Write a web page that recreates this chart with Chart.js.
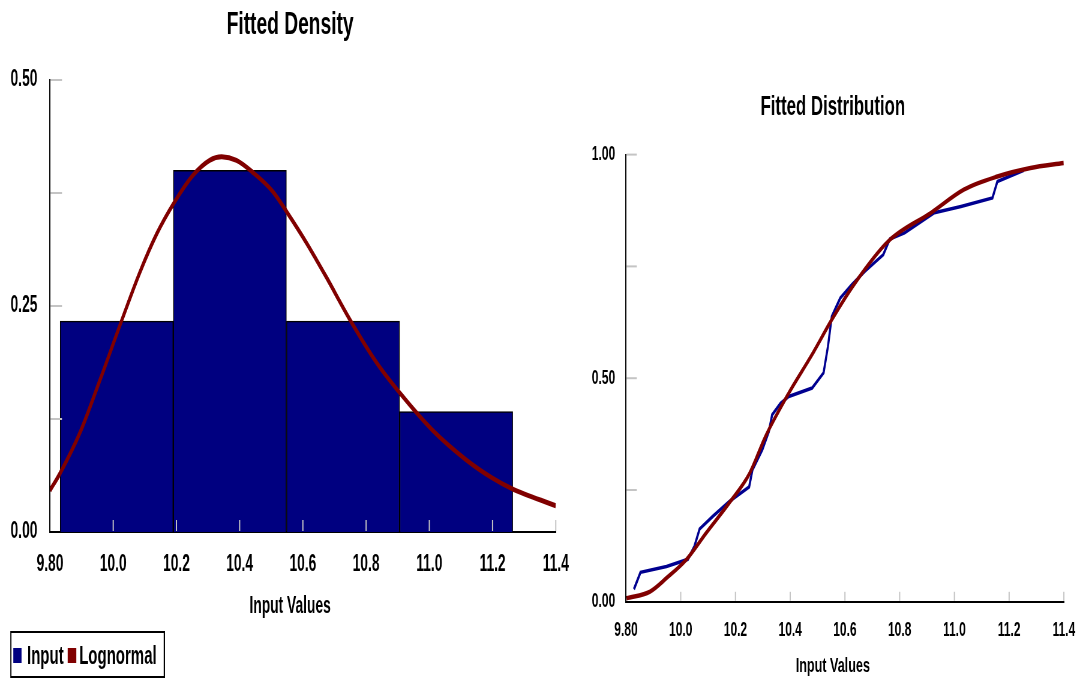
<!DOCTYPE html>
<html>
<head>
<meta charset="utf-8">
<script src="https://cdn.jsdelivr.net/npm/chart.js@4.4.1/dist/chart.umd.min.js"></script>
<style>
  html, body { margin: 0; padding: 0; background: #fff; overflow: hidden; }
  /* the source picture is squeezed sideways, so the whole stage is drawn wide and scaled down */
  #stage { position: absolute; left: 0; top: 0; width: 1809px; height: 683px; transform: scaleX(0.6); transform-origin: 0 0; }
  #density { position: absolute; left: 0; top: 0; }
  #distribution { position: absolute; left: 967px; top: 60px; }
  #legend { position: absolute; left: 17px; top: 631px; width: 258px; height: 47px; box-sizing: border-box; border: 2px solid #000;
            font-family: 'Liberation Sans', Arial, sans-serif; font-weight: bold; font-size: 25px; color: #000; }
  #legend span { position: absolute; }
  .sq { width: 14px; height: 15px; top: 15px; }
  .lab { top: 8px; line-height: 28px; }
</style>
</head>
<body>
<div id="stage">
  <canvas id="density" width="967" height="625"></canvas>
  <canvas id="distribution" width="842" height="623"></canvas>
  <div id="legend">
    <span class="sq" style="left:3px;background:#000080"></span><span class="lab" style="left:26px">Input</span>
    <span class="sq" style="left:94px;background:#800000"></span><span class="lab" style="left:113px">Lognormal</span>
  </div>
</div>
<script>
// histogram of the input (share of values per bin)
const binCenters = [10.011, 10.369, 10.727, 11.085];
const binShares = [0.2333, 0.4000, 0.2333, 0.1333];

// fitted lognormal density, scaled to the bin width
const densX = [9.800, 9.832, 9.895, 9.958, 10.030, 10.084, 10.138, 10.194, 10.251, 10.305, 10.343, 10.390, 10.441, 10.504, 10.551, 10.611, 10.674, 10.747, 10.832, 10.911, 11.009, 11.116, 11.198, 11.261, 11.400];
const densY = [0.046, 0.065, 0.110, 0.168, 0.237, 0.287, 0.330, 0.365, 0.394, 0.411, 0.415, 0.411, 0.398, 0.377, 0.353, 0.320, 0.282, 0.236, 0.188, 0.152, 0.113, 0.080, 0.060, 0.048, 0.029];

// empirical distribution of the input
const inputCdfX = [9.829, 9.853, 9.948, 10.026, 10.050, 10.069, 10.117, 10.177, 10.250, 10.262, 10.298, 10.322, 10.334, 10.365, 10.395, 10.480, 10.522, 10.538, 10.552, 10.583, 10.625, 10.673, 10.740, 10.764, 10.818, 10.927, 11.024, 11.139, 11.157, 11.254];
const inputCdfY = [0.028, 0.066, 0.079, 0.095, 0.124, 0.163, 0.191, 0.224, 0.257, 0.295, 0.340, 0.381, 0.418, 0.444, 0.459, 0.478, 0.512, 0.571, 0.638, 0.679, 0.709, 0.739, 0.776, 0.811, 0.825, 0.870, 0.884, 0.903, 0.940, 0.965];

// fitted lognormal distribution
const lognCdfX = [9.802, 9.888, 9.948, 10.020, 10.093, 10.177, 10.250, 10.310, 10.395, 10.480, 10.552, 10.637, 10.758, 10.915, 11.036, 11.157, 11.278, 11.399];
const lognCdfY = [0.008, 0.023, 0.053, 0.094, 0.154, 0.221, 0.285, 0.370, 0.467, 0.553, 0.631, 0.713, 0.806, 0.870, 0.922, 0.951, 0.970, 0.981];

// axes
const xTicks = [9.8, 10.0, 10.2, 10.4, 10.6, 10.8, 11.0, 11.2, 11.4];
const xTickLabels = ['9.80', '10.0', '10.2', '10.4', '10.6', '10.8', '11.0', '11.2', '11.4'];
const densYTicks = [0, 0.125, 0.25, 0.375, 0.5];
const densYLabels = ['0.00', '', '0.25', '', '0.50'];
const distYTicks = [0, 0.25, 0.5, 0.75, 1];
const distYLabels = ['0.00', '', '0.50', '', '1.00'];

const FONT = "'Liberation Sans', Arial, sans-serif";
const NAVY = '#000080';
const RED = '#800000';
Chart.defaults.font.family = FONT;

const pts = (xs, ys) => xs.map((x, i) => ({ x: x, y: ys[i] }));

// small gray tick marks pointing into the plot, like the original
const tickMarks = {
  id: 'tickMarks',
  afterDatasetsDraw(chart, args, opts) {
    const { ctx, chartArea } = chart;
    const x = chart.scales.x, y = chart.scales.y;
    ctx.save();
    ctx.strokeStyle = '#c4c4c4';
    ctx.lineWidth = 2;
    x.ticks.forEach(t => {
      const px = x.getPixelForValue(t.value);
      if (px < chartArea.left + 2) return;
      ctx.beginPath();
      ctx.moveTo(px, chartArea.bottom - 1);
      ctx.lineTo(px, chartArea.bottom - opts.xLen);
      ctx.stroke();
    });
    y.ticks.forEach(t => {
      const py = y.getPixelForValue(t.value);
      if (py > chartArea.bottom - 2) return;
      ctx.beginPath();
      ctx.moveTo(chartArea.left + 1, py);
      ctx.lineTo(chartArea.left + opts.yLen, py);
      ctx.stroke();
    });
    ctx.restore();
  }
};

function xScale(tickSize, tickPad, height) {
  return {
    type: 'linear', min: 9.8, max: 11.4, offset: false,
    grid: { display: false, drawTicks: false },
    border: { display: true, color: '#000', width: 2 },
    afterBuildTicks: s => { s.ticks = xTicks.map(v => ({ value: v })); },
    afterFit: s => { s.height = height; },
    ticks: {
      callback: (v, i) => xTickLabels[i], autoSkip: false, maxRotation: 0,
      color: '#000', padding: tickPad, font: { size: tickSize, weight: 'bold' }
    }
  };
}

function yScale(max, ticks, labels, tickSize, tickPad, width) {
  return {
    min: 0, max: max,
    grid: { display: false, drawTicks: false },
    border: { display: true, color: '#000', width: 2 },
    afterBuildTicks: s => { s.ticks = ticks.map(v => ({ value: v })); },
    afterFit: s => { s.width = width; },
    ticks: {
      callback: (v, i) => labels[i], autoSkip: false,
      color: '#000', padding: tickPad, font: { size: tickSize, weight: 'bold' }
    }
  };
}

// empty right-hand strip so the titles centre where the original has them
function spacer(width) {
  return {
    position: 'right', display: true,
    grid: { display: false, drawTicks: false },
    border: { display: false },
    ticks: { display: false },
    afterFit: s => { s.width = width; }
  };
}

new Chart(document.getElementById('density'), {
  type: 'bar',
  data: {
    datasets: [
      {
        type: 'line', label: 'Lognormal', data: pts(densX, densY),
        borderColor: RED, borderWidth: 5, pointRadius: 0, cubicInterpolationMode: 'monotone', order: 0
      },
      {
        type: 'bar', label: 'Input', data: pts(binCenters, binShares),
        backgroundColor: NAVY, borderColor: '#000', borderWidth: 1.5,
        barThickness: 'flex', barPercentage: 1, categoryPercentage: 1, order: 1
      }
    ]
  },
  options: {
    responsive: false, animation: false, devicePixelRatio: 1,
    layout: { padding: 0 },
    plugins: {
      legend: { display: false },
      tooltip: { enabled: false },
      title: { display: true, text: 'Fitted Density', color: '#000', font: { size: 32, weight: 'bold' }, padding: { top: 6, bottom: 35.6 } },
      subtitle: { display: true, position: 'bottom', text: 'Input Values', color: '#000', font: { size: 23, weight: 'bold' }, padding: { top: 0, bottom: 5 } },
      tickMarks: { xLen: 12, yLen: 20 }
    },
    scales: {
      x: xScale(23, 19, 60.4),
      y: yScale(0.5, densYTicks, densYLabels, 23, 21, 83.3),
      y2: spacer(38.7)
    }
  },
  plugins: [tickMarks]
});

new Chart(document.getElementById('distribution'), {
  type: 'line',
  data: {
    datasets: [
      {
        label: 'Lognormal', data: pts(lognCdfX, lognCdfY),
        borderColor: RED, borderWidth: 4.5, pointRadius: 0, cubicInterpolationMode: 'monotone', order: 0
      },
      {
        label: 'Input', data: pts(inputCdfX, inputCdfY),
        borderColor: '#000090', borderWidth: 3.5, pointRadius: 0, order: 1
      }
    ]
  },
  options: {
    responsive: false, animation: false, devicePixelRatio: 1,
    layout: { padding: 0 },
    plugins: {
      legend: { display: false },
      tooltip: { enabled: false },
      title: { display: true, text: 'Fitted Distribution', color: '#000', font: { size: 28, weight: 'bold' }, padding: { top: 30, bottom: 31 } },
      subtitle: { display: true, position: 'bottom', text: 'Input Values', color: '#000', font: { size: 21, weight: 'bold' }, padding: { top: 0, bottom: 4 } },
      tickMarks: { xLen: 10, yLen: 18 }
    },
    scales: {
      x: xScale(20, 17, 52),
      y: yScale(1, distYTicks, distYLabels, 20, 18, 76.3),
      y2: spacer(30.7)
    }
  },
  plugins: [tickMarks]
});
</script>
</body>
</html>
